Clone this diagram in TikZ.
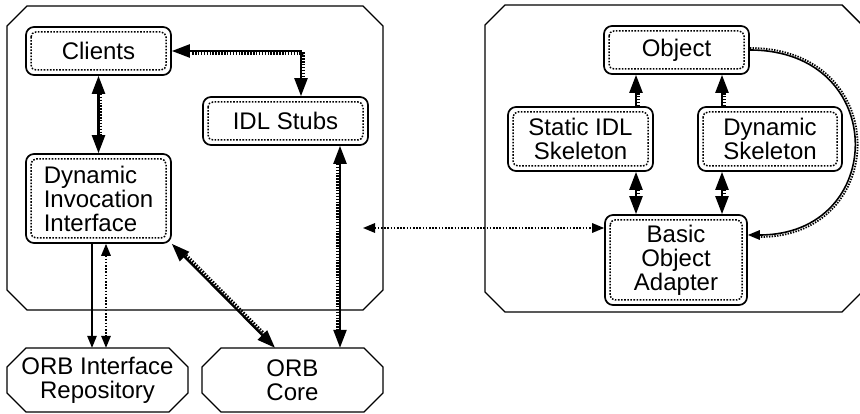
\documentclass[tikz,border=0pt]{standalone}
\usepackage{fontspec}
\setmainfont{Liberation Sans}
\usetikzlibrary{arrows.meta}

% octagonal frame: #1,#2 = top left, #3,#4 = bottom right, #5 = chamfer
\newcommand\octframe[5]{%
  \draw[frame] (#1+#5,#2) -- (#3-#5,#2) -- (#3,#2+#5) -- (#3,#4-#5)
    -- (#3-#5,#4) -- (#1+#5,#4) -- (#1,#4-#5) -- (#1,#2+#5) -- cycle;}
% octagonal named node: #1 name, #2..#5 corners, #6 chamfer, #7 text
\newcommand\octnode[7]{%
  \octframe{#2}{#3}{#4}{#5}{#6}%
  \node[label text, minimum width={#4-#2}, minimum height={#5-#3}]
    (#1) at ({(#2+#4)/2},{(#3+#5)/2}) {#7};}
% thick connector: solid line with a row of dots along one side
\newcommand\ladder[5]{% #1 tips, #2 dot shortening, #3 from, #4 to, #5 dot offset
  \draw[ladder line, #1] #3 -- #4;
  \draw[ladder dots, #2, transform canvas={shift={#5}}] #3 -- #4;}

\begin{document}
\begin{tikzpicture}[x=1pt, y=-1pt,
  frame/.style={draw=black, line width=1.4pt, line join=miter},
  label text/.style={inner sep=0pt, align=center,
    font=\fontsize{24}{24}\selectfont},
  comp/.style={label text, draw=black, line width=1.7pt, rounded corners=8pt,
    path picture={\draw[line width=1.5pt, dash pattern=on 1.6pt off 1.5pt,
      rounded corners=5pt]
      ([shift={(5pt,-5pt)}]path picture bounding box.north west) rectangle
      ([shift={(-5pt,5pt)}]path picture bounding box.south east);}},
  bigtip/.tip={Triangle[length=18pt, width=13pt]},
  smalltip/.tip={Triangle[length=12pt, width=9.5pt]},
  ladder line/.style={draw=black, line width=2.4pt},
  ladder dots/.style={draw=black, line width=2.6pt, dash pattern=on 1.5pt off 1.4pt},
  thin link/.style={draw=black, line width=1.3pt},
  dot link/.style={draw=black, line width=1.5pt, dash pattern=on 1.6pt off 1.6pt},
  curve line/.style={draw=black, line width=1.6pt},
  curve dots/.style={draw=black, line width=1.8pt, dash pattern=on 1.4pt off 1.3pt}]

\useasboundingbox (0,0) rectangle (860,414);

% client side and server side containers
\octframe{7}{6}{383}{310}{20}
\octframe{485}{5}{862}{312}{20}

% ORB parts below the client side
\octnode{oir}{7}{348}{188}{412}{19}{ORB Interface\\Repository}
\octnode{core}{202}{348}{383}{412}{19}{ORB\\Core}

% client side components
\node[comp, minimum width=145, minimum height=48] (clients) at (98.5,51) {Clients};
\node[comp, minimum width=165, minimum height=48] (idl) at (285.5,121) {IDL Stubs};
\node[comp, minimum width=145, minimum height=89, align=left] (dii) at (98.5,198.5)
  {Dynamic\\Invocation\\Interface};

% server side components
\node[comp, minimum width=145, minimum height=48] (object) at (676.5,50) {Object};
\node[comp, minimum width=145, minimum height=64] (static) at (580.5,139) {Static IDL\\Skeleton};
\node[comp, minimum width=144, minimum height=64] (dynsk) at (770,139) {Dynamic\\Skeleton};
\node[comp, minimum width=142, minimum height=90] (boa) at (676,260) {Basic\\Object\\Adapter};

% connector columns
\coordinate (xsol) at (92,0);
\coordinate (xdot) at (106,0);
\coordinate (xcore) at (340,0);
\coordinate (xst) at (636,0);
\coordinate (xdy) at (722,0);
\coordinate (ldot) at (363,228);

% client side connectors
\draw[ladder line, bigtip-bigtip] (clients.east) -| ([xshift=15.5pt]idl.north);
\draw[ladder dots, shorten <=18pt, shorten >=18pt, transform canvas={shift={(2.3pt,-2.3pt)}}]
  (clients.east) -| ([xshift=15.5pt]idl.north);
\ladder{bigtip-bigtip}{shorten <=18pt, shorten >=18pt}{(clients.south)}{(dii.north)}{(2.4pt,0pt)}
\ladder{bigtip-bigtip}{shorten <=18pt, shorten >=18pt}{(xcore |- idl.south)}{(xcore |- core.north)}{(-2.4pt,0pt)}
\ladder{bigtip-bigtip}{shorten <=18pt, shorten >=18pt}{(dii.south east)}{([xshift=-17.5pt]core.north)}{(1.7pt,1.7pt)}
\draw[thin link, -smalltip] (xsol |- dii.south) -- (xsol |- oir.north);
\draw[dot link, smalltip-smalltip] (xdot |- dii.south) -- (xdot |- oir.north);

% link between the two sides
\draw[dot link, smalltip-smalltip] (ldot) -- (ldot -| boa.west);

% server side connectors
\ladder{-bigtip}{shorten >=18pt}{(xst |- static.north)}{(xst |- object.south)}{(2.4pt,0pt)}
\ladder{-bigtip}{shorten >=18pt}{(xdy |- dynsk.north)}{(xdy |- object.south)}{(2.4pt,0pt)}
\ladder{bigtip-bigtip}{shorten <=18pt, shorten >=18pt}{(xst |- static.south)}{(xst |- boa.north)}{(2.4pt,0pt)}
\ladder{bigtip-bigtip}{shorten <=18pt, shorten >=18pt}{(xdy |- dynsk.south)}{(xdy |- boa.north)}{(2.4pt,0pt)}

% callback from the object to the adapter
\draw[curve line, -smalltip] (object.east) .. controls +(140,0) and +(140,0) .. ([yshift=25pt]boa.east);
\draw[curve dots, shorten >=12pt] ([yshift=2pt]object.east) .. controls +(143,0) and +(143,0) .. ([yshift=23pt]boa.east);
\end{tikzpicture}
\end{document}
